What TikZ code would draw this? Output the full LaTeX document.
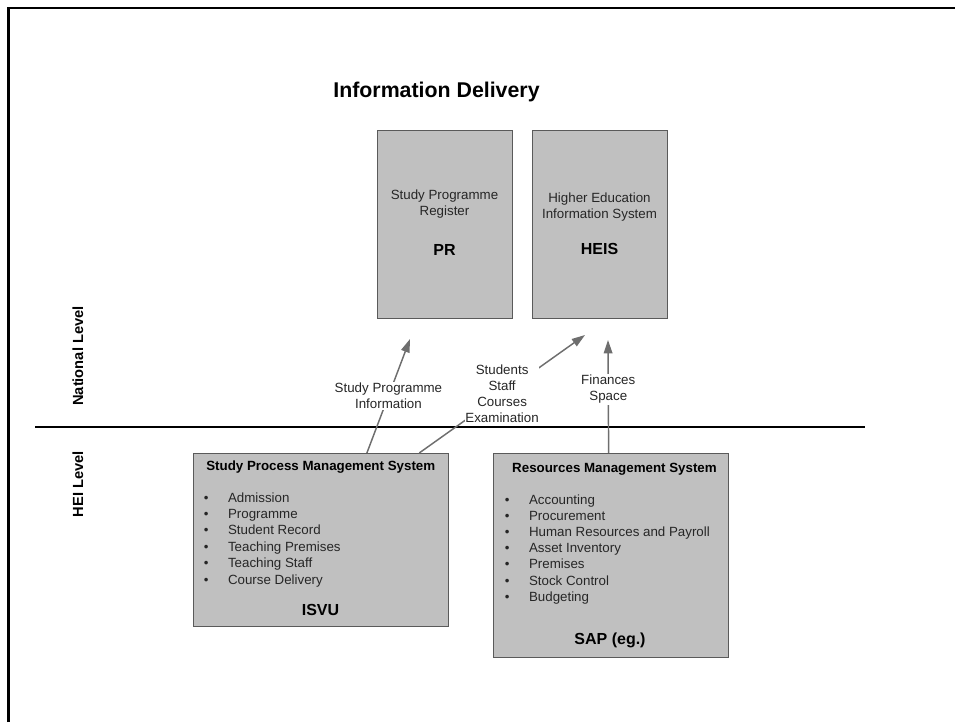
\documentclass[tikz,border=0pt]{standalone}
\usepackage{fontspec}
\setmainfont{Liberation Sans}
\usetikzlibrary{arrows.meta,calc}
\definecolor{boxfill}{HTML}{C0C0C0}
\definecolor{boxdraw}{HTML}{5A5A5A}
\definecolor{arrowgray}{HTML}{6E6E6E}
\definecolor{txt}{HTML}{262626}
\begin{document}
\begin{tikzpicture}[x=0.75pt,y=-0.75pt,
  box/.style={draw=boxdraw, fill=boxfill, line width=1.1pt, anchor=north west, inner sep=0pt},
  arr/.style={draw=arrowgray, line width=1.1pt, -{Triangle[length=10pt,width=6.5pt]}},
  lab/.style={fill=white, inner sep=1pt, align=center, font=\fontsize{10}{12}\selectfont, text=txt},
  small/.style={inner sep=0pt, font=\fontsize{10}{12}\selectfont, text=txt},
  big/.style={inner sep=0pt, font=\fontsize{12}{14}\selectfont\bfseries, text=black},
  head/.style={inner sep=0pt, font=\fontsize{10}{12}\selectfont\bfseries, text=black},
  level/.style={inner sep=0pt, rotate=90, font=\fontsize{11}{13}\selectfont\bfseries, text=black},
  item/.style={inner sep=0pt, anchor=base west, font=\fontsize{10}{12}\selectfont, text=txt}
]
\useasboundingbox (0,0) rectangle (955,722);
% frame
\draw[line width=2pt] (8.5,722) -- (8.5,8) -- (955,8);

% title
\node[inner sep=0pt, font=\fontsize{16}{18}\selectfont\bfseries] (title) at (436.5,92) {Information Delivery};

% national boxes
\node[box, minimum width=101.25pt, minimum height=141pt] (pr) at (377,130) {};
\node[box, minimum width=101.25pt, minimum height=141pt] (heis) at (532,130) {};
\node[small] (pr1) at (444.5,196) {Study Programme};
\node[small] (pr2) at (444.5,212) {Register};
\node[big] (pr3) at (444.5,250) {PR};
\node[small] (he1) at (599.5,199) {Higher Education};
\node[small] (he2) at (599.5,215) {Information System};
\node[big] (he3) at (599.5,249) {HEIS};

% level labels
\node[level] (nat) at (78,356) {National Level};
\node[level] (hei) at (78,484) {HEI Level};

% separator
\coordinate (sepL) at (35,427);
\coordinate (sepR) at (865,427);
\draw[line width=2pt] (sepL) -- (sepR);

% HEI boxes
\node[box, minimum width=191.25pt, minimum height=129.75pt] (sp) at (193,453) {};
\node[box, minimum width=176.25pt, minimum height=153pt] (rm) at (493,453) {};

\node[head, anchor=base west] (sph) at (206,470.5) {Study Process Management System};
\foreach \t [count=\i from 0] in {Admission,Programme,Student Record,Teaching Premises,Teaching Staff,Course Delivery}{
  \node[item] (spi\i) at (203.5,{502+16.4*\i}) {\makebox[18.2pt][l]{\textbullet}\t};
}
\node[big] (isvu) at (320.5,610) {ISVU};

\node[head, anchor=base] (rmh) at (614.5,472) {Resources Management System};
\foreach \t [count=\i from 0] in {Accounting,Procurement,Human Resources and Payroll,Asset Inventory,Premises,Stock Control,Budgeting}{
  \node[item] (rmi\i) at (504.5,{504+16.2*\i}) {\makebox[18.2pt][l]{\textbullet}\t};
}
\node[big] (sap) at (610,640) {SAP (eg.)};

% arrows
\coordinate (t1) at (410,339);
\coordinate (t2) at (585,335);
\coordinate (t3) at (608,340);
\draw[arr] ($(sp.north west)!0.678!(sp.north east)$) -- node[lab, pos=0.5] (l1) {Study Programme\\Information} (t1);
\draw[arr] ($(sp.north west)!0.882!(sp.north east)$) -- node[lab, pos=0.5, inner sep=0.5pt] (l2) {Students\\Staff\\Courses\\Examination} (t2);
\draw[arr] ($(rm.north west)!0.489!(rm.north east)$) -- node[lab, pos=0.566] (l3) {Finances\\Space} (t3);
\end{tikzpicture}
\end{document}
